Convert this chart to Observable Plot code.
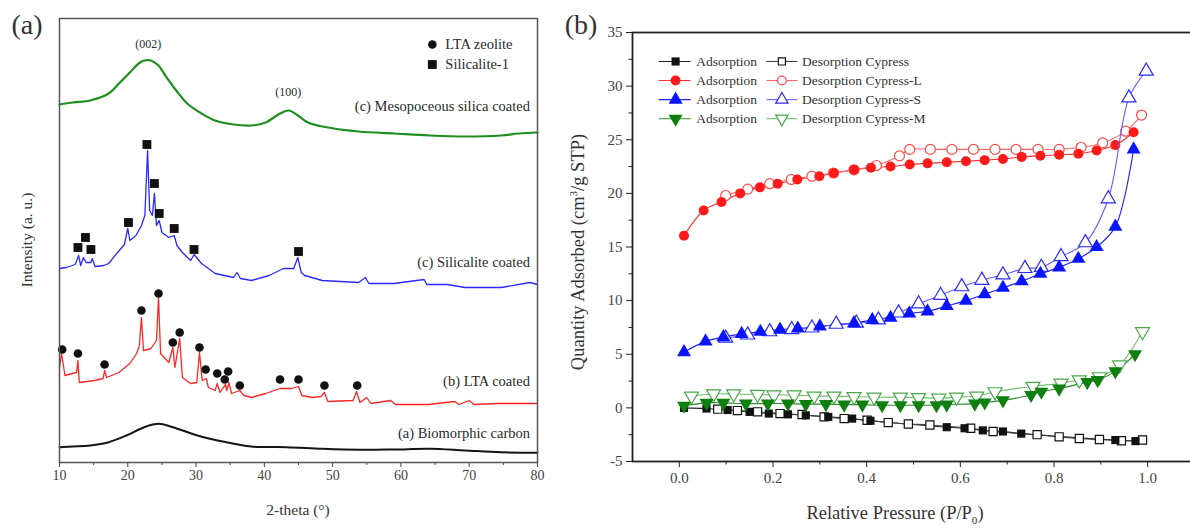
<!DOCTYPE html>
<html><head><meta charset="utf-8">
<script src="https://cdn.jsdelivr.net/npm/d3@7"></script>
<script src="https://cdn.jsdelivr.net/npm/@observablehq/plot@0.6"></script>
<style>
html,body{margin:0;padding:0;background:#fff;overflow:hidden;width:1190px;height:529px}
#wrap{position:relative;width:1190px;height:529px;overflow:hidden;font-family:"Liberation Serif","Times New Roman",serif;color:#333}
.panel{position:absolute;top:0}
.lbl{position:absolute;white-space:nowrap;transform:translate(-50%,-50%);line-height:1}
</style></head><body><div id="wrap"></div><script>
// ---------- Panel (a): XRD patterns, [2-theta, intensity (a.u.)] ----------
const carbon = [[10,15.3],[12,16],[14.5,17],[17.2,20.3],[19.8,27],[22.4,35.3],[24.5,38.7],[26.6,35.3],[30.2,27],[33.9,21],[38.1,16],[43.3,15.3],[48.5,13.7],[53.8,12.7],[59,13],[64.2,13.7],[69.4,12],[74.7,10.3],[80,9.7]];
const lta = [[10,95],[10.3,109],[10.8,87],[11.9,89],[12.5,90],[12.7,102],[12.9,80],[15.1,82],[16.4,84],[16.6,92],[16.9,85],[18.7,90],[20.3,99],[21.3,109],[21.7,117],[22.0,145],[22.3,112],[23.4,114],[24.2,122],[24.5,165],[24.8,109],[26.0,100],[26.6,115],[26.9,95],[27.6,124],[28.0,85],[29.2,79],[30.1,80],[30.5,110],[30.9,82],[31.5,84],[31.8,75],[32.8,72],[33.1,79],[33.5,70],[34.3,78],[34.5,72],[34.8,80],[35.2,69],[36.4,72],[37,67],[38.1,65],[40.2,69],[42.3,74],[44.0,74],[45.0,76],[45.5,67],[47,65],[48.3,66],[48.8,70],[49.3,61],[53.0,62],[53.5,71],[54.0,60],[55.0,65],[55.6,59],[58.5,62],[59.2,58],[64,58],[67.9,61],[68.5,58],[70.0,62],[70.7,58],[74,59],[80,59]];
const silicalite = [[10,194],[11,195],[12.3,198],[12.8,207],[13.1,197],[13.5,205],[13.9,200],[14.6,200],[14.8,204],[15.2,196],[16.5,197],[17.2,199],[18.5,210],[19.5,218],[20.0,234],[20.3,222],[21.2,227],[22.0,237],[22.5,247],[22.9,312],[23.2,252],[23.6,247],[23.9,269],[24.2,237],[24.6,242],[25.0,230],[26.0,225],[26.8,227],[27.2,217],[28.0,210],[29.2,202],[29.7,208],[30.8,199],[32.8,189],[35.5,185],[36,190],[36.5,184],[38.1,182],[40.7,187],[42.8,194],[44.3,194],[44.9,205],[45.4,190],[45.9,187],[48.5,182],[53.8,180],[54.8,185],[55.3,179],[59,179],[63.4,183],[63.8,178],[66.8,178],[69.4,175],[74.7,175],[78.9,180],[80,178]];
const mesoSilica = [[10,358],[12,360],[14.5,362],[17.2,369],[18.7,379],[20.3,390],[21.6,399],[22.4,402],[23.4,402],[24.5,397],[25.5,387],[27.1,372],[28.7,359],[30.8,349],[32.8,342],[35.5,338],[38.1,337],[40.2,340],[42.3,349],[43.6,352],[44.9,347],[46.4,340],[48.5,336],[53.8,331],[59,329],[64.2,327],[69.4,326],[74.7,327],[77.3,329],[80,330]];
const ltaPeaks = [[10.4,113],[12.7,109],[16.6,98],[22.0,152],[24.5,169],[26.6,120],[27.6,130],[30.5,115],[31.4,93],[33.1,89],[34.2,83],[34.7,91],[36.4,77],[42.3,83],[45.0,83],[48.8,77],[53.6,77]];
const silicalitePeaks = [[12.7,215],[13.8,225],[14.6,213],[20.1,240],[22.8,318],[23.9,279],[24.6,249],[26.8,234],[29.7,213],[45.0,211]];
const curveNames = ["(a) Biomorphic carbon","(b) LTA coated","(c) Silicalite coated","(c) Mesopoceous silica coated"];
const curveLabelY = [29, 81, 200, 356];
const planeLabels = [["(002)",23,418],["(100)",43.5,370]];
const xrdLegend = ["LTA zeolite","Silicalite-1"];
const xTicksA = [10,20,30,40,50,60,70,80];

// ---------- Panel (b): N2 isotherms, [P/P0, quantity] ----------
const cypressAds = [[0.010,0.0],[0.058,-0.06],[0.103,-0.2],[0.150,-0.37],[0.191,-0.53],[0.232,-0.6],[0.270,-0.7],[0.318,-0.84],[0.369,-1.0],[0.408,-1.2],[0.571,-1.8],[0.609,-1.9],[0.648,-2.1],[0.691,-2.2],[0.730,-2.4],[0.931,-3.0],[0.974,-3.1]];
const cypressDes = [[0.989,-3.0],[0.944,-3.07],[0.897,-2.95],[0.854,-2.86],[0.811,-2.7],[0.764,-2.5],[0.670,-2.2],[0.622,-1.9],[0.535,-1.6],[0.489,-1.5],[0.446,-1.37],[0.401,-1.15],[0.352,-1.0],[0.309,-0.84],[0.262,-0.62],[0.215,-0.53],[0.167,-0.37],[0.124,-0.25],[0.082,-0.12]];
const cypressLAds = [[0.010,16.06],[0.052,18.4],[0.090,19.2],[0.130,20.0],[0.172,20.56],[0.210,20.9],[0.252,21.3],[0.299,21.6],[0.330,21.9],[0.373,22.2],[0.409,22.4],[0.451,22.5],[0.492,22.7],[0.530,22.8],[0.571,22.9],[0.612,23.0],[0.652,23.1],[0.691,23.2],[0.731,23.4],[0.771,23.5],[0.811,23.6],[0.852,23.7],[0.891,24.0],[0.931,24.5],[0.970,25.7]];
const cypressLDes = [[0.987,27.3],[0.953,25.8],[0.904,24.7],[0.858,24.3],[0.811,24.1],[0.766,24.1],[0.719,24.1],[0.674,24.1],[0.628,24.1],[0.582,24.1],[0.536,24.1],[0.492,24.1],[0.470,23.5],[0.421,22.6],[0.373,22.2],[0.329,21.9],[0.283,21.6],[0.239,21.3],[0.193,20.9],[0.146,20.4],[0.099,19.8]];
const cypressSAds = [[0.010,5.2],[0.056,6.2],[0.094,6.6],[0.133,6.9],[0.173,7.1],[0.215,7.3],[0.253,7.4],[0.300,7.6],[0.373,7.9],[0.412,8.2],[0.451,8.4],[0.491,8.8],[0.530,9.0],[0.571,9.5],[0.612,10.0],[0.652,10.6],[0.691,11.2],[0.731,11.8],[0.771,12.5],[0.811,13.1],[0.852,13.9],[0.891,15.0],[0.931,16.9],[0.970,24.1]];
const cypressSDes = [[0.997,31.4],[0.960,28.9],[0.916,19.5],[0.867,15.4],[0.815,14.1],[0.773,13.1],[0.738,13.0],[0.691,12.4],[0.646,11.9],[0.603,11.3],[0.558,10.5],[0.511,9.7],[0.468,8.85],[0.425,8.2],[0.378,7.9],[0.335,7.8],[0.283,7.45],[0.240,7.3],[0.193,7.1],[0.146,6.8],[0.099,6.5]];
const cypressMAds = [[0.010,0.2],[0.058,0.47],[0.094,0.47],[0.142,0.4],[0.189,0.4],[0.232,0.4],[0.270,0.35],[0.313,0.35],[0.352,0.3],[0.391,0.3],[0.433,0.25],[0.472,0.25],[0.511,0.25],[0.549,0.25],[0.571,0.3],[0.631,0.4],[0.652,0.5],[0.691,0.7],[0.751,1.2],[0.773,1.5],[0.811,1.8],[0.871,2.4],[0.893,2.6],[0.931,3.4],[0.973,5.0]];
const cypressMDes = [[0.989,7.1],[0.940,4.0],[0.897,2.9],[0.854,2.6],[0.815,2.3],[0.755,2.0],[0.674,1.5],[0.635,1.1],[0.592,1.0],[0.554,0.9],[0.511,0.95],[0.472,1.0],[0.416,1.0],[0.373,1.05],[0.330,1.1],[0.288,1.1],[0.245,1.2],[0.202,1.2],[0.167,1.25],[0.116,1.3],[0.073,1.3],[0.026,1.1]];
const sampleNames = ["Cypress","Cypress-L","Cypress-S","Cypress-M"];
const xTicksB = [0,0.2,0.4,0.6,0.8,1.0];
const yTicksB = [-5,0,5,10,15,20,25,30,35];

// ---------- styles ----------
const serif = '"Liberation Serif","Times New Roman",serif';
const X = d => d[0], Y = d => d[1];
const wrap = document.getElementById("wrap");

const xrdColors = ["#151515", "#ff2626", "#2a2aff", "#1f8f1f"];
const xrdWidths = [2, 1.3, 1.3, 2.2];
const xrdCurveType = ["catmull-rom", "linear", "linear", "catmull-rom"];
const xrdCurves = [carbon, lta, silicalite, mesoSilica];

const A = Plot.plot({
  width: 560, height: 529,
  marginLeft: 59, marginRight: 23, marginTop: 18, marginBottom: 67,
  style: {fontFamily: serif, fontSize: "14px", color: "#444", background: "transparent", overflow: "visible"},
  x: {domain: [10, 80]},
  y: {domain: [0, 444], axis: null},
  marks: [
    Plot.axisX({ticks: xTicksA, tickSize: 5, tickPadding: 3, label: null, tickFormat: d => String(d), stroke: "#444"}),
    Plot.axisX({ticks: d3.range(15, 80, 10), tickSize: 3, text: null, label: null, stroke: "#444"}),
    ...xrdCurves.map((c, i) => Plot.line(c, {x: X, y: Y, stroke: xrdColors[i], strokeWidth: xrdWidths[i], strokeLinejoin: "round", curve: xrdCurveType[i]})),
    Plot.dot(ltaPeaks, {x: X, y: Y, r: 4.3, fill: "#111", stroke: null}),
    Plot.dot(silicalitePeaks, {x: X, y: Y, r: 5, symbol: "square", fill: "#111", stroke: null}),
    Plot.text(curveNames, {x: 78.9, y: (d, i) => curveLabelY[i], text: d => d, textAnchor: "end", fontSize: 14.5, fill: "#2a2a2a"}),
    Plot.text(planeLabels, {x: d => d[1], y: d => d[2], text: d => d[0], fontSize: 12, fill: "#2a2a2a"}),
    Plot.dot([0], {x: 64.6, y: 418, r: 4.3, fill: "#111", stroke: null}),
    Plot.dot([0], {x: 64.6, y: 398, r: 5, symbol: "square", fill: "#111", stroke: null}),
    Plot.text(xrdLegend, {x: 66.5, y: (d, i) => 418 - 20 * i, text: d => d, textAnchor: "start", fontSize: 14.5, fill: "#2a2a2a"}),
    Plot.frame({stroke: "#555", strokeWidth: 1.5})
  ]
});
A.classList.add("panel");
A.style.left = "0px";
wrap.appendChild(A);

const bColors = ["#111111", "#ff1a1a", "#0a14ff", "#0f7f0f"];
const bLineAds = ["#222222", "#ff3030", "#2020ff", "#2d8a2d"];
const bLineDes = ["#444444", "#ff6a6a", "#6a5cff", "#6fbf6f"];
const bOpenStroke = ["#111111", "#ff4a4a", "#2a2aff", "#4aa84a"];
const bSymbols = ["square", "circle", "triangle", "triangle"];
const bRotate = [0, 0, 0, 180];
const bR = [4.6, 5, 5.2, 5.2];
const adsSets = [cypressAds, cypressLAds, cypressSAds, cypressMAds];
const desSets = [cypressDes, cypressLDes, cypressSDes, cypressMDes];

const bMarks = [];
for (let i = 0; i < 4; i++) {
  bMarks.push(Plot.line(adsSets[i], {x: X, y: Y, stroke: bLineAds[i], strokeWidth: 1.1, curve: "catmull-rom"}));
  bMarks.push(Plot.line(desSets[i], {x: X, y: Y, stroke: bLineDes[i], strokeWidth: 1.1, curve: "catmull-rom"}));
  bMarks.push(Plot.dot(desSets[i], {x: X, y: Y, r: bR[i], symbol: bSymbols[i], rotate: bRotate[i], fill: "white", stroke: bOpenStroke[i], strokeWidth: 1.2}));
  bMarks.push(Plot.dot(adsSets[i], {x: X, y: Y, r: bR[i], symbol: bSymbols[i], rotate: bRotate[i], fill: bColors[i], stroke: null}));
}
// legend (b)
const legY = i => 32.3 - i * 1.78;
const legMarks = [];
for (let i = 0; i < 4; i++) {
  const y = legY(i);
  legMarks.push(Plot.link([0], {x1: -0.044, x2: 0.024, y1: y, y2: y, stroke: bLineAds[i], strokeWidth: 1.1}));
  legMarks.push(Plot.dot([0], {x: -0.008, y, r: bR[i], symbol: bSymbols[i], rotate: bRotate[i], fill: bColors[i], stroke: null}));
  legMarks.push(Plot.text(["Adsorption"], {x: 0.036, y, text: d => d, textAnchor: "start", fontSize: 13.5, fill: "#333"}));
  legMarks.push(Plot.link([0], {x1: 0.186, x2: 0.252, y1: y, y2: y, stroke: bLineDes[i], strokeWidth: 1.1}));
  legMarks.push(Plot.dot([0], {x: 0.219, y, r: bR[i] - 0.6, symbol: bSymbols[i], rotate: bRotate[i], fill: "white", stroke: bOpenStroke[i], strokeWidth: 1.2}));
  legMarks.push(Plot.text(["Desorption " + sampleNames[i]], {x: 0.262, y, text: d => d, textAnchor: "start", fontSize: 13.5, fill: "#333"}));
}

const B = Plot.plot({
  width: 640, height: 529,
  marginLeft: 72, marginRight: 6, marginTop: 32, marginBottom: 68,
  style: {fontFamily: serif, fontSize: "15px", color: "#444", background: "transparent"},
  x: {domain: [-0.1, 1.1]},
  y: {domain: [-5, 35]},
  marks: [
    Plot.axisX({ticks: xTicksB, tickSize: 6, tickPadding: 5, label: null, tickFormat: d => d.toFixed(1), stroke: "#222"}),
    Plot.axisX({ticks: [0.1, 0.3, 0.5, 0.7, 0.9], tickSize: 3.5, text: null, label: null, stroke: "#222"}),
    Plot.axisY({ticks: yTicksB, tickSize: 6, tickPadding: 4, label: null, tickFormat: d => String(d), stroke: "#222"}),
    Plot.axisY({ticks: d3.range(-2.5, 35, 5), tickSize: 3.5, text: null, label: null, stroke: "#222"}),
    ...bMarks,
    ...legMarks,
    Plot.frame({stroke: "#222", strokeWidth: 1.8})
  ]
});
B.classList.add("panel");
B.style.left = "560px";
wrap.appendChild(B);

// titles and panel letters
function label(html, cx, cy, size, rotate) {
  const d = document.createElement("div");
  d.className = "lbl";
  d.innerHTML = html;
  d.style.left = cx + "px";
  d.style.top = cy + "px";
  d.style.fontSize = size + "px";
  if (rotate) d.style.transform = "translate(-50%,-50%) rotate(-90deg)";
  wrap.appendChild(d);
}
label("(a)", 27, 25, 28);
label("(b)", 581, 25, 28);
label("Intensity (a. u.)", 27, 240, 15.5, true);
label("2-theta (°)", 298, 510, 15.5);
label("Quantity Adsorbed (cm<sup style='font-size:60%;vertical-align:super'>3</sup>/g STP)", 578, 252, 18.5, true);
label("Relative Pressure (P/P<sub style='font-size:60%;vertical-align:sub'>0</sub>)", 895, 515, 18.5);
</script></body></html>
